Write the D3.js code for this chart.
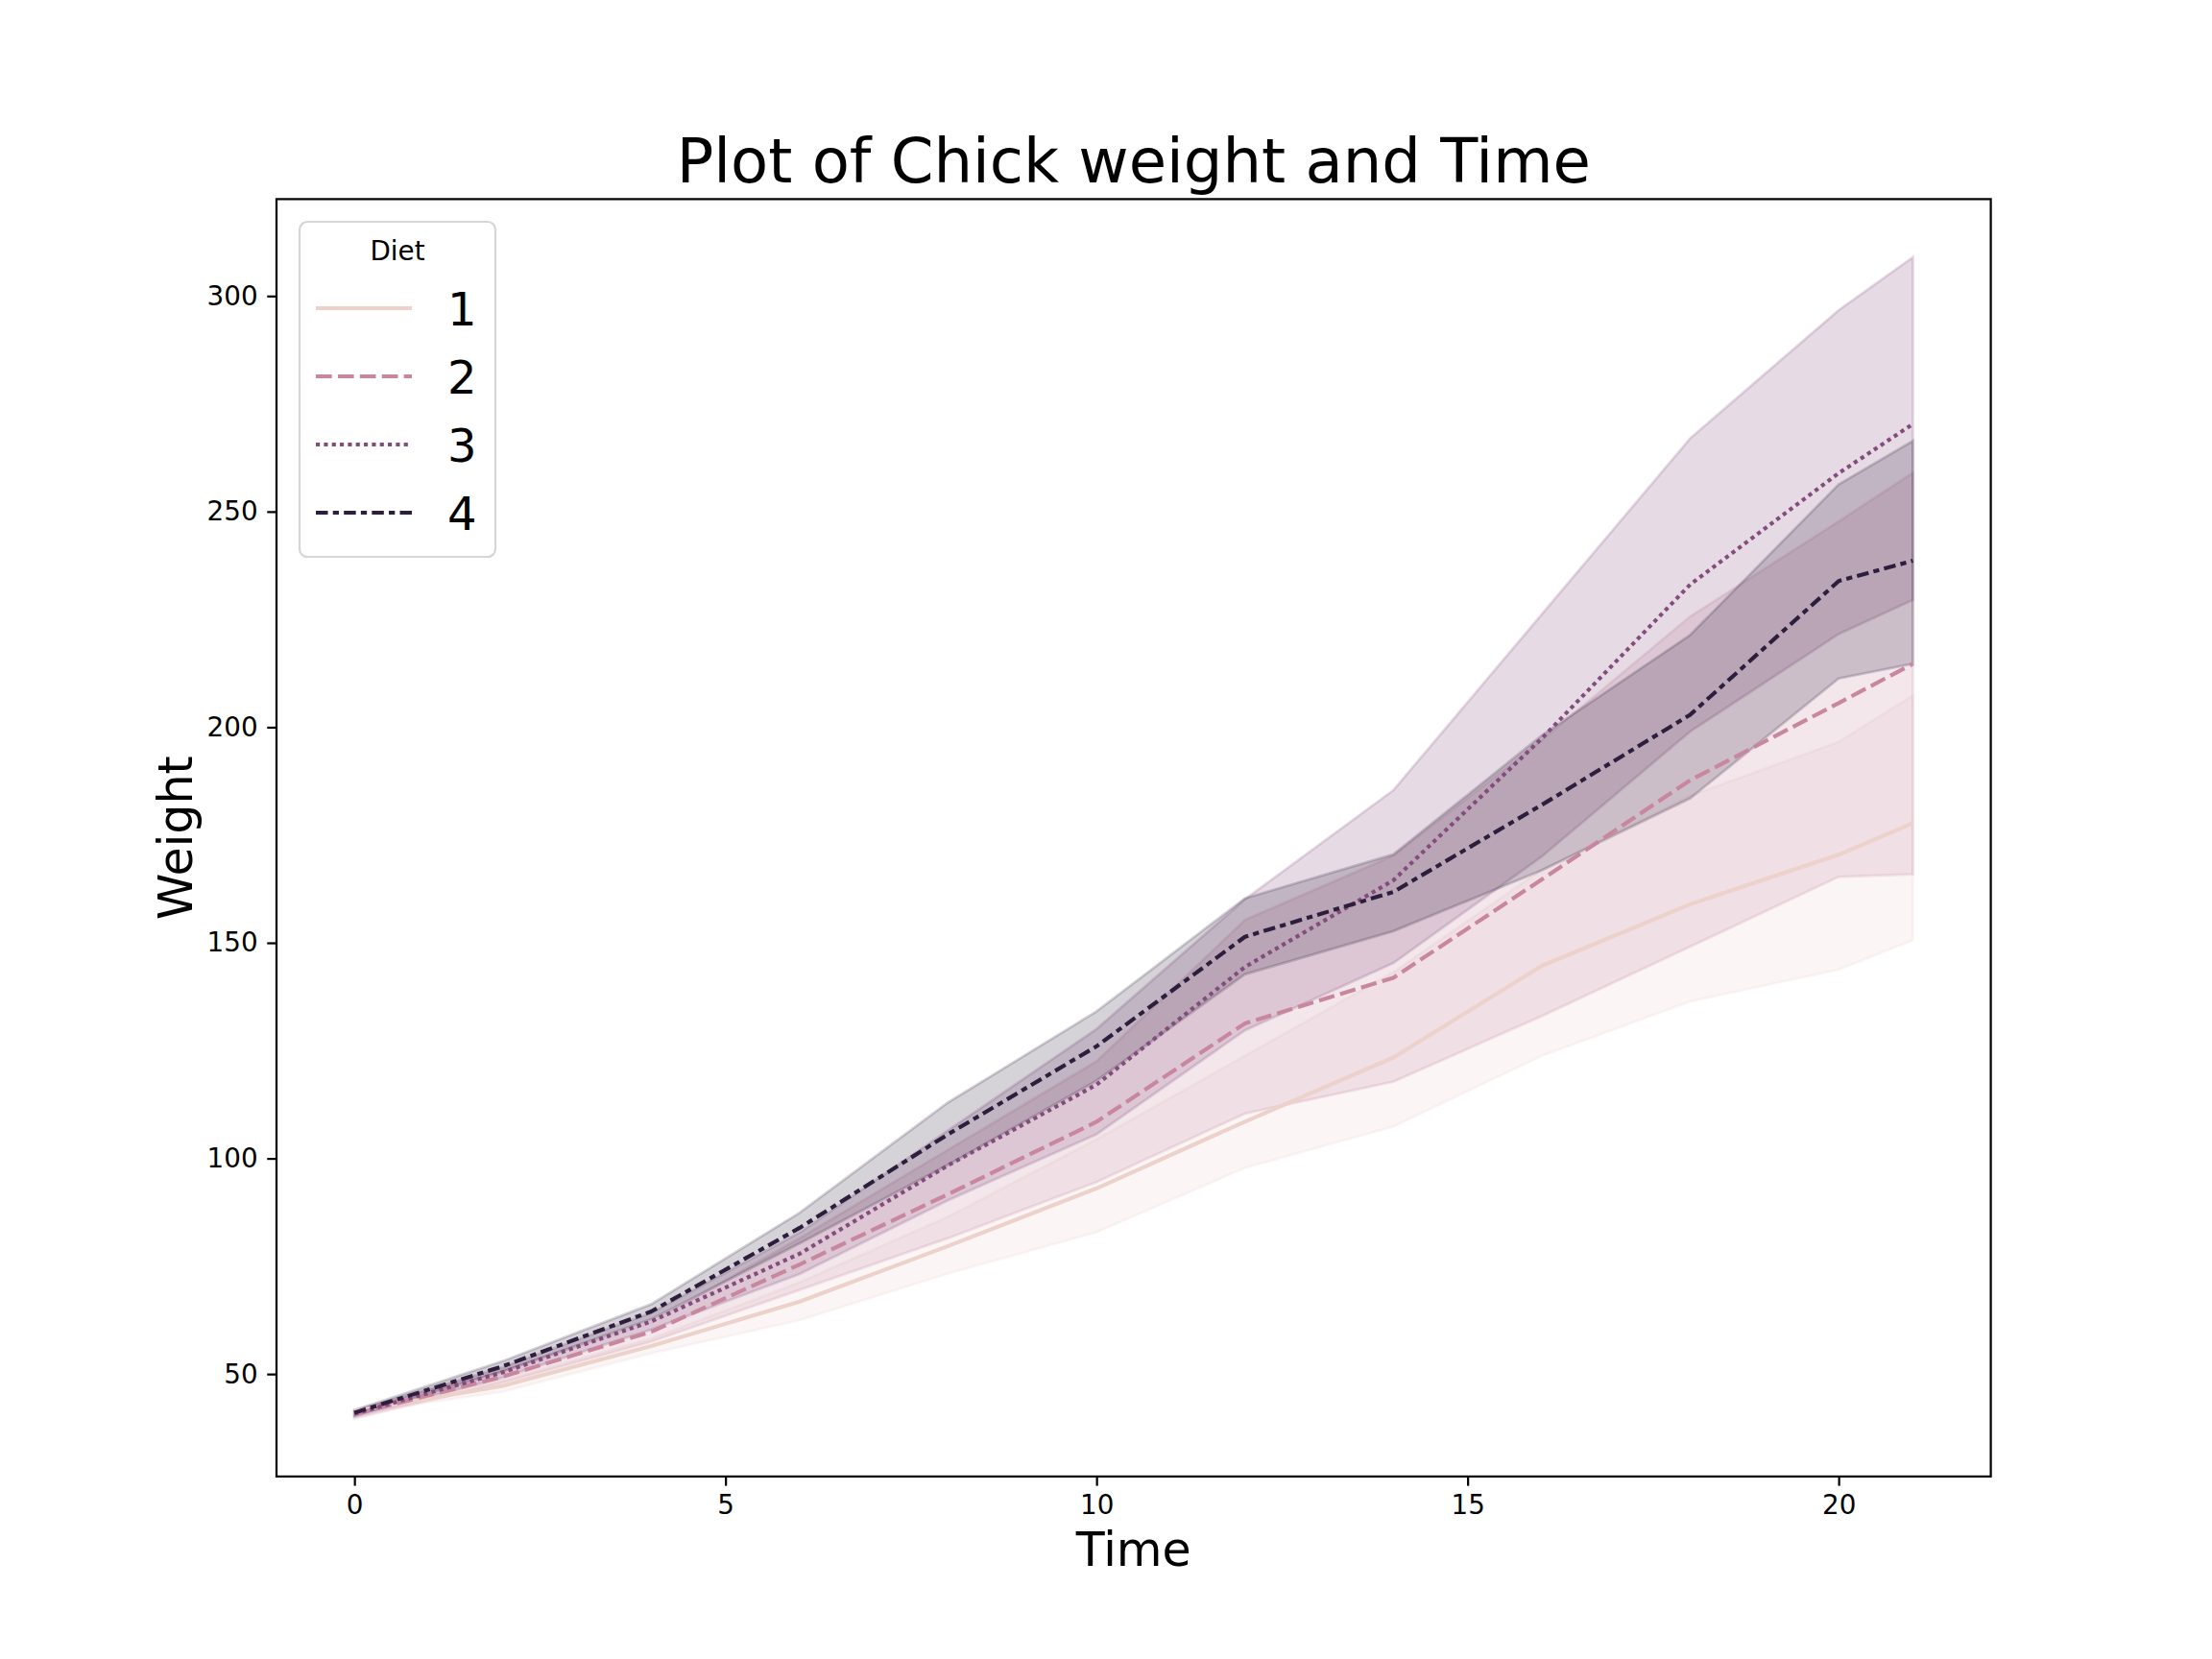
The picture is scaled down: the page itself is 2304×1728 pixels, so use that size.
<!DOCTYPE html>
<html>
<head>
<meta charset="utf-8">
<script src="https://cdn.jsdelivr.net/npm/d3@7"></script>
<style>
  body { margin: 0; background: #fff; }
  text { font-family: "DejaVu Sans", sans-serif; fill: #000; }
</style>
</head>
<body>
<script>

WIDTH = 2304;
HEIGHT = 1728;
// axes box, same fractions matplotlib uses (0.125 .. 0.9, 0.11 .. 0.88)
MARGIN = ({top: 207.4, right: 230.4, bottom: 190.1, left: 288});
PT = 200 / 72;   // figure was rendered at 200 dpi
LW = 1.5 * PT;

// ---- data ----
var TIMES = [0, 2, 4, 6, 8, 10, 12, 14, 16, 18, 20, 21];
var DIETS = ["1", "2", "3", "4"];
var COLORS = ["#edd1cb", "#c8879e", "#834c7d", "#2d1e3e"];

var MEAN_1 = [41.4, 47.25, 56.47, 66.79, 79.68, 93.05, 108.53, 123.39, 144.65, 158.94, 170.41, 177.75];
var LOW_1  = [41.0, 45.9, 54.8, 62.5, 73.3, 82.9, 97.8, 107.4, 123.8, 136.4, 143.8, 150.6];
var HIGH_1 = [41.8, 48.6, 58.2, 71.3, 86.5, 104.4, 123.8, 143.2, 167.0, 184.1, 196.6, 207.4];

var MEAN_2 = [40.7, 49.4, 59.8, 75.4, 91.7, 108.5, 131.3, 141.9, 164.7, 187.7, 205.6, 214.7];
var LOW_2  = [39.7, 48.0, 57.5, 69.5, 81.5, 94.5, 110.4, 117.8, 133.0, 149.1, 165.3, 165.9];
var HIGH_2 = [41.6, 50.9, 62.0, 81.5, 102.0, 122.5, 155.3, 170.2, 197.0, 225.7, 247.7, 259.0];

var MEAN_3 = [40.8, 50.4, 62.2, 77.9, 98.4, 117.1, 144.4, 164.5, 197.4, 233.1, 258.9, 270.3];
var LOW_3  = [40.2, 49.2, 60.3, 73.2, 90.3, 105.6, 129.7, 145.3, 170.0, 199.0, 221.6, 229.5];
var HIGH_3 = [41.4, 51.6, 64.2, 82.8, 106.5, 130.0, 160.1, 185.4, 226.2, 267.0, 296.7, 309.0];

var MEAN_4 = [41.0, 51.8, 64.5, 83.9, 105.6, 126.0, 151.4, 161.8, 182.0, 202.9, 233.9, 238.6];
var LOW_4  = [40.3, 50.6, 62.7, 80.3, 98.5, 118.0, 142.7, 152.7, 166.8, 183.5, 211.3, 214.7];
var HIGH_4 = [41.6, 53.0, 66.2, 87.4, 113.0, 134.1, 160.3, 170.5, 198.1, 221.4, 256.3, 266.4];

var X_TICKS = [0, 5, 10, 15, 20];
var Y_TICKS = [50, 100, 150, 200, 250, 300];

// seaborn dash patterns, in units of line width
var DASHES = [null, [4, 1.5], [1, 1], [3, 1.25, 1.5, 1.25]];

var series = [
    {mean: MEAN_1, low: LOW_1, high: HIGH_1},
    {mean: MEAN_2, low: LOW_2, high: HIGH_2},
    {mean: MEAN_3, low: LOW_3, high: HIGH_3},
    {mean: MEAN_4, low: LOW_4, high: HIGH_4}
].map((s, i) => ({
    diet: DIETS[i],
    color: COLORS[i],
    dash: DASHES[i] ? DASHES[i].map(v => v * LW).join(",") : null,
    points: TIMES.map((t, j) => ({t: t, mean: s.mean[j], low: s.low[j], high: s.high[j]}))
}));

function padded(ext) {
    var d = ext[1] - ext[0];
    return [ext[0] - 0.05 * d, ext[1] + 0.05 * d];
}

var svg = d3.select("body").append("svg")
    .attr("width", WIDTH)
    .attr("height", HEIGHT);

var x = d3.scaleLinear()
    .domain(padded(d3.extent(TIMES)))
    .range([MARGIN.left, WIDTH - MARGIN.right]);

var allVals = series.flatMap(s => s.points.flatMap(p => [p.low, p.high]));
var y = d3.scaleLinear()
    .domain(padded(d3.extent(allVals)))
    .range([HEIGHT - MARGIN.bottom, MARGIN.top]);

// confidence bands first (matplotlib puts collections under lines)
var area = d3.area()
    .x(d => x(d.t))
    .y0(d => y(d.low))
    .y1(d => y(d.high));

svg.append("g").selectAll("path")
    .data(series)
    .enter().append("path")
    .attr("d", d => area(d.points) + "Z")
    .attr("fill", d => d.color)
    .attr("fill-opacity", 0.2)
    .attr("stroke", d => d.color)
    .attr("stroke-opacity", 0.2)
    .attr("stroke-width", 1.0 * PT);

var line = d3.line()
    .x(d => x(d.t))
    .y(d => y(d.mean));

svg.append("g").selectAll("path")
    .data(series)
    .enter().append("path")
    .attr("d", d => line(d.points))
    .attr("fill", "none")
    .attr("stroke", d => d.color)
    .attr("stroke-width", LW)
    .attr("stroke-dasharray", d => d.dash)
    .attr("stroke-linejoin", "round");

// axes
var TICK = 3.5 * PT;

var xAxis = g => g
    .attr("transform", `translate(0,${HEIGHT - MARGIN.bottom})`)
    .call(d3.axisBottom(x).tickValues(X_TICKS).tickSize(TICK).tickPadding(TICK).tickSizeOuter(0))
    .call(g => g.select(".domain").remove());

var yAxis = g => g
    .attr("transform", `translate(${MARGIN.left},0)`)
    .call(d3.axisLeft(y).tickValues(Y_TICKS).tickSize(TICK).tickPadding(TICK).tickSizeOuter(0))
    .call(g => g.select(".domain").remove());

svg.append("g").call(xAxis);
svg.append("g").call(yAxis);

svg.selectAll(".tick line")
    .attr("stroke", "#000")
    .attr("stroke-width", 0.8 * PT);
svg.selectAll(".tick text")
    .attr("font-size", 10 * PT)
    .attr("font-family", "DejaVu Sans")
    .attr("fill", "#000");

// frame
svg.append("rect")
    .attr("x", MARGIN.left)
    .attr("y", MARGIN.top)
    .attr("width", WIDTH - MARGIN.left - MARGIN.right)
    .attr("height", HEIGHT - MARGIN.top - MARGIN.bottom)
    .attr("fill", "none")
    .attr("stroke", "#000")
    .attr("stroke-width", 0.8 * PT);

var cx = (MARGIN.left + WIDTH - MARGIN.right) / 2;
var cy = (MARGIN.top + HEIGHT - MARGIN.bottom) / 2;

svg.append("text")
    .attr("x", cx)
    .attr("y", 190)
    .attr("text-anchor", "middle")
    .attr("font-size", 64)
    .text("Plot of Chick weight and Time");

svg.append("text")
    .attr("x", cx)
    .attr("y", 1631)
    .attr("text-anchor", "middle")
    .attr("font-size", 49)
    .text("Time");

svg.append("text")
    .attr("transform", `translate(200,${cy}) rotate(-90)`)
    .attr("text-anchor", "middle")
    .attr("font-size", 49)
    .text("Weight");

// legend
var legend = svg.append("g")
    .attr("transform", "translate(312,231)");

legend.append("rect")
    .attr("width", 204)
    .attr("height", 349)
    .attr("rx", 8)
    .attr("fill", "#fff")
    .attr("fill-opacity", 0.8)
    .attr("stroke", "#cccccc")
    .attr("stroke-opacity", 0.8)
    .attr("stroke-width", 0.8 * PT);

legend.append("text")
    .attr("x", 102)
    .attr("y", 40)
    .attr("text-anchor", "middle")
    .attr("font-size", 10 * PT)
    .text("Diet");

var item = legend.selectAll(".item")
    .data(series)
    .enter().append("g")
    .attr("class", "item")
    .attr("transform", (d, i) => `translate(0,${90 + i * 71})`);

item.append("line")
    .attr("x1", 17)
    .attr("x2", 117)
    .attr("stroke", d => d.color)
    .attr("stroke-width", LW)
    .attr("stroke-dasharray", d => d.dash);

item.append("text")
    .attr("x", 154)
    .attr("y", 18)
    .attr("font-size", 48)
    .text(d => d.diet);

</script>
</body>
</html>
